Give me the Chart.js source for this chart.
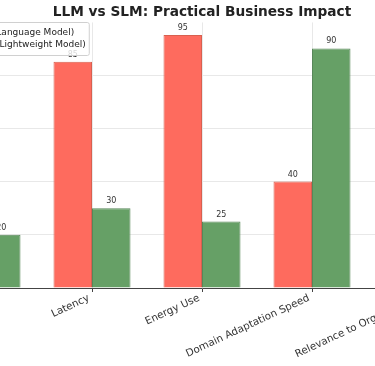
<!DOCTYPE html>
<html>
<head>
<meta charset="utf-8">
<script src="https://cdn.jsdelivr.net/npm/chart.js@4/dist/chart.umd.min.js"></script>
<style>
    html, body { margin: 0; padding: 0; background: #fff; overflow: hidden; }
    #wrap { position: relative; width: 375px; height: 366px; overflow: hidden; }
    #impactChart { position: absolute; left: -163px; top: 0; }
</style>
</head>
<body>
<div id="wrap">
    <canvas id="impactChart" width="730" height="366"></canvas>
</div>
<script>
// Data
const categories = ['Operational Cost', 'Latency', 'Energy Use', 'Domain Adaptation Speed', 'Relevance to Organization'];
const llmScores = [90, 85, 95, 40, 60];
const slmScores = [20, 30, 25, 90, 85];
const seriesLabels = ['LLM (Large Language Model)', 'SLM (Small, Lightweight Model)'];
const yTicks = [0, 20, 40, 60, 80];

const FONT = '"DejaVu Sans", sans-serif';

// Value labels above each bar
const barValues = {
    id: 'barValues',
    afterDatasetsDraw(chart) {
        const ctx = chart.ctx;
        ctx.save();
        ctx.font = '8px ' + FONT;
        ctx.fillStyle = '#333';
        ctx.textAlign = 'center';
        ctx.textBaseline = 'bottom';
        chart.data.datasets.forEach((ds, i) => {
            chart.getDatasetMeta(i).data.forEach((bar, j) => {
                ctx.fillText(ds.data[j], bar.x, bar.y - 3);
            });
        });
        ctx.restore();
    }
};

// Legend box drawn inside the plot (upper left)
const innerLegend = {
    id: 'innerLegend',
    afterDraw(chart) {
        const ctx = chart.ctx;
        const area = chart.chartArea;
        const sets = chart.data.datasets;
        ctx.save();
        ctx.font = '9px ' + FONT;
        const maxW = Math.max(...sets.map(d => ctx.measureText(d.label).width));
        const textX = area.left + 17;
        const boxL = area.left + 1;
        const boxT = 22;
        const boxW = textX + maxW + 3 - boxL;
        const boxH = 33;

        ctx.fillStyle = 'rgba(255,255,255,0.8)';
        ctx.strokeStyle = '#d0d0d0';
        ctx.lineWidth = 1;
        ctx.beginPath();
        ctx.roundRect(boxL + 0.5, boxT + 0.5, boxW, boxH, 2);
        ctx.fill();
        ctx.stroke();

        sets.forEach((ds, i) => {
            const cy = 33 + i * 12;
            ctx.fillStyle = ds.backgroundColor;
            ctx.fillRect(area.left + 4, cy - 3, 10, 6);
            ctx.fillStyle = '#222';
            ctx.textAlign = 'left';
            ctx.textBaseline = 'middle';
            ctx.fillText(ds.label, textX, cy);
        });
        ctx.restore();
    }
};

new Chart(document.getElementById('impactChart'), {
    type: 'bar',
    data: {
        labels: categories,
        datasets: [
            {
                label: seriesLabels[0],
                data: llmScores,
                backgroundColor: '#FE6B5E',
                borderColor: '#D8604F',
                borderWidth: 1,
                categoryPercentage: 0.7,
                barPercentage: 1.0
            },
            {
                label: seriesLabels[1],
                data: slmScores,
                backgroundColor: '#66A066',
                borderColor: '#58875A',
                borderWidth: 1,
                categoryPercentage: 0.7,
                barPercentage: 1.0
            }
        ]
    },
    options: {
        responsive: false,
        animation: false,
        layout: { padding: 0 },
        plugins: {
            legend: { display: false },
            tooltip: { enabled: false },
            title: {
                display: true,
                text: 'LLM vs SLM: Practical Business Impact',
                color: '#222',
                font: { family: FONT, size: 13.7, weight: 'bold' },
                padding: { top: 4, bottom: 2 }
            }
        },
        scales: {
            x: {
                offset: true,
                grid: {
                    offset: false,
                    color: '#e8e8e8',
                    tickColor: '#444',
                    tickLength: 4
                },
                border: { color: '#444', width: 1 },
                ticks: {
                    autoSkip: false,
                    minRotation: 25,
                    maxRotation: 25,
                    padding: 0,
                    labelOffset: -3,
                    color: '#333',
                    font: { family: FONT, size: 10.3 }
                },
                afterFit(scale) { scale.height = 78; }
            },
            y: {
                min: 0,
                max: 99.75,
                grid: { color: '#e8e8e8', drawTicks: false },
                border: { display: false },
                ticks: { display: false },
                afterBuildTicks(scale) {
                    scale.ticks = yTicks.map(v => ({ value: v }));
                },
                afterFit(scale) { scale.width = 90; }
            },
            yRight: {
                position: 'right',
                min: 0,
                max: 99.75,
                grid: { display: false },
                border: { display: false },
                ticks: { display: false },
                afterFit(scale) { scale.width = 90; }
            }
        }
    },
    plugins: [barValues, innerLegend]
});
</script>
</body>
</html>
